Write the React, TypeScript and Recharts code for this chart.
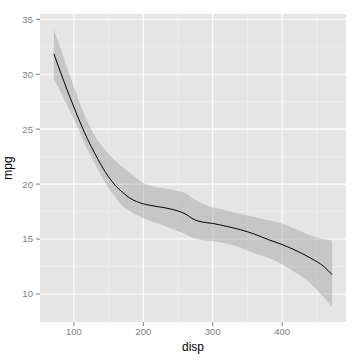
import React from 'react'
import {
  ComposedChart,
  Area,
  Line,
  XAxis,
  YAxis,
  CartesianGrid,
} from 'recharts'

// loess fit of mpg ~ disp
const disp = [
  71.1, 80, 90, 100, 110, 120, 130, 140, 150, 160, 170, 180, 190, 200, 210, 220, 230, 240,
  250, 260, 265, 270, 280, 290, 300, 320, 340, 360, 380, 400, 420, 440, 460, 472,
]
const fit = [
  31.85, 30.3, 28.6, 27.0, 25.45, 24.05, 22.8, 21.65, 20.65, 19.85, 19.25, 18.75, 18.42, 18.2,
  18.07, 17.95, 17.86, 17.72, 17.55, 17.3, 17.1, 16.88, 16.62, 16.5, 16.42, 16.15, 15.85, 15.45,
  14.95, 14.5, 13.95, 13.3, 12.5, 11.75,
]
const lower = [
  29.5, 28.5, 27.2, 25.9, 24.5, 23.1, 21.9, 20.7, 19.65, 18.75, 18.0, 17.55, 17.2, 16.9, 16.65,
  16.45, 16.2, 15.95, 15.7, 15.45, 15.3, 15.15, 14.95, 14.87, 14.8, 14.6, 14.2, 13.7, 13.3,
  12.7, 11.9, 11.0, 9.7, 8.8,
]
const upper = [
  34.1, 32.5, 30.6, 28.85, 27.1, 25.6, 24.4, 23.5, 22.75, 22.1, 21.55, 21.05, 20.55, 20.1,
  19.85, 19.7, 19.6, 19.5, 19.38, 19.2, 19.0, 18.75, 18.4, 18.1, 17.9, 17.6, 17.3, 17.0, 16.7,
  16.4, 15.9, 15.35, 15.0, 14.85,
]

const xTicks = [100, 200, 300, 400]
const xMinor = [150, 250, 350, 450]
const yTicks = [10, 15, 20, 25, 30, 35]
const yMinor = [12.5, 17.5, 22.5, 27.5, 32.5]

const data = disp.map((d, i) => ({
  disp: d,
  mpg: fit[i],
  band: [lower[i], upper[i]],
}))

const tickStyle = { fontSize: 9.6, fill: '#7f7f7f', fontFamily: 'Liberation Sans, Arial, sans-serif' }
const titleStyle = { fontSize: 12, fill: '#000', fontFamily: 'Liberation Sans, Arial, sans-serif' }

export default function App() {
  return (
    <div style={{ position: 'fixed', left: 0, top: 0, width: 360, height: 360, background: '#fff' }}>
      <ComposedChart width={360} height={360} data={data} margin={{ top: 14, right: 14, bottom: 0, left: 0 }}>
        {/* minor grid first, with the panel fill, then the white major grid */}
        <CartesianGrid
          fill="#e5e5e5"
          stroke="#f2f2f2"
          strokeWidth={0.6}
          horizontalValues={yMinor}
          verticalValues={xMinor}
        />
        <CartesianGrid stroke="#ffffff" strokeWidth={1.1} horizontalValues={yTicks} verticalValues={xTicks} />
        <XAxis
          type="number"
          dataKey="disp"
          domain={[51.1, 492]}
          ticks={xTicks}
          allowDataOverflow
          axisLine={false}
          tickLine={{ stroke: '#7f7f7f' }}
          tickSize={4}
          tickMargin={2}
          height={38}
          tick={tickStyle}
          label={{ value: 'disp', position: 'insideBottom', offset: 9, style: titleStyle }}
        />
        <YAxis
          type="number"
          domain={[7.45, 35.48]}
          ticks={yTicks}
          allowDataOverflow
          axisLine={false}
          tickLine={{ stroke: '#7f7f7f' }}
          tickSize={4}
          tickMargin={3}
          width={40}
          tick={tickStyle}
          label={{ value: 'mpg', angle: -90, position: 'insideLeft', offset: 8, style: { ...titleStyle, textAnchor: 'middle' } }}
        />
        <Area
          dataKey="band"
          type="monotone"
          stroke="none"
          fill="#999999"
          fillOpacity={0.4}
          isAnimationActive={false}
        />
        <Line
          dataKey="mpg"
          type="monotone"
          stroke="#000"
          strokeWidth={1}
          dot={false}
          isAnimationActive={false}
        />
      </ComposedChart>
    </div>
  )
}
